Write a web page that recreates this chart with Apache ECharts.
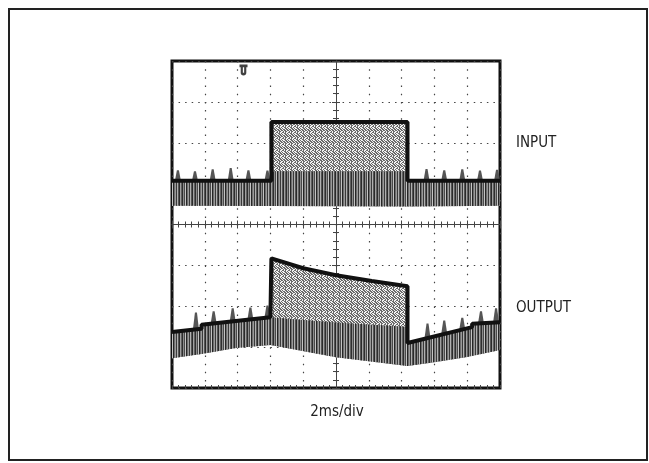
<!DOCTYPE html>
<html>
<head>
<meta charset="utf-8">
<script src="https://cdn.jsdelivr.net/npm/echarts@6/dist/echarts.min.js"></script>
<style>
  html, body { margin: 0; padding: 0; background: #fff; }
  #chart { width: 649px; height: 463px; }
</style>
</head>
<body>
<div id="chart"></div>
<script>
// scope screen in divisions: x -5..5 (2ms/div), y -4..4
// upper envelope (thick trace), top of the dense part, bottom of the band
const inputEdge = [[-5, 1.07], [-1.97, 1.07], [-1.97, 2.51], [2.18, 2.51], [2.18, 1.07], [5, 1.07]];
const inputDense = [[-5, 1.07], [-1.97, 1.07], [-1.97, 1.3], [2.18, 1.3], [2.18, 1.07], [5, 1.07]];
const inputFloor = [[-5, 0.46], [-1.97, 0.45], [2.18, 0.44], [5, 0.46]];
// spikes above the low level: [x, base, tip]
const inputSpikes = [[-4.82, 1.07, 1.33], [-4.30, 1.07, 1.30], [-3.76, 1.07, 1.35], [-3.21, 1.07, 1.38],
  [-2.67, 1.07, 1.33], [-2.09, 1.07, 1.32], [2.76, 1.07, 1.36], [3.30, 1.07, 1.33],
  [3.85, 1.07, 1.35], [4.39, 1.07, 1.32], [4.91, 1.07, 1.34]];

const outputEdge = [[-5, -2.63], [-4.1, -2.55], [-4.1, -2.45], [-2.0, -2.27], [-1.97, -0.83],
  [-1.0, -1.07], [0, -1.24], [1.09, -1.38], [2.18, -1.51], [2.18, -2.9], [4.15, -2.51],
  [4.15, -2.43], [5, -2.39]];
const outputDense = [[-5, -2.63], [-4.1, -2.55], [-4.1, -2.45], [-2.0, -2.27], [0, -2.4],
  [2.18, -2.5], [2.18, -2.9], [4.15, -2.51], [4.15, -2.43], [5, -2.39]];
const outputFloor = [[-5, -3.27], [-4.1, -3.17], [-3.05, -3.02], [-2.0, -2.95], [0, -3.25],
  [2.18, -3.46], [3.0, -3.37], [4.0, -3.24], [5, -3.07]];
const outputSpikes = [[-4.27, -2.56, -2.15], [-3.73, -2.43, -2.12], [-3.15, -2.38, -2.05],
  [-2.61, -2.33, -2.03], [-2.09, -2.28, -1.98], [2.79, -2.78, -2.42], [3.30, -2.68, -2.35],
  [3.85, -2.57, -2.28], [4.42, -2.42, -2.12], [4.88, -2.4, -2.05]];

const triggerMark = [[-2.82, 3.78]];

function makePattern(w, h, paint) {
  const c = document.createElement('canvas');
  c.width = w;
  c.height = h;
  paint(c.getContext('2d'));
  return { image: c, repeat: 'repeat' };
}

// vertical streaks for the dense part
const densePattern = makePattern(13, 4, (ctx) => {
  const cols = ['#2e2e2e', '#8c8c8c', '#4a4a4a', '#c4c4c4', '#262626', '#6e6e6e', '#9a9a9a',
    '#3a3a3a', '#b0b0b0', '#555', '#2a2a2a', '#a0a0a0', '#606060'];
  cols.forEach((c, i) => {
    ctx.fillStyle = c;
    ctx.fillRect(i, 0, 1, 4);
  });
});
// speckle for the high part
const lightPattern = makePattern(6, 6, (ctx) => {
  ctx.fillStyle = '#f2f2f2';
  ctx.fillRect(0, 0, 6, 6);
  ctx.fillStyle = '#6a6a6a';
  [[0, 0, 2], [3, 0, 1], [2, 1, 2], [5, 1, 1], [0, 2, 1], [3, 2, 2], [1, 3, 2], [4, 3, 2],
    [0, 4, 1], [2, 4, 2], [5, 4, 1], [1, 5, 1], [3, 5, 2]]
    .forEach(([x, y, w]) => ctx.fillRect(x, y, w, 1));
});

function band(top, floor, fill) {
  return {
    type: 'custom',
    silent: true,
    data: [[0, 0]],
    z: 2,
    renderItem: (params, api) => {
      const pts = top.concat(floor.slice().reverse()).map((p) => api.coord(p));
      return { type: 'polygon', shape: { points: pts }, style: { fill: fill } };
    },
  };
}

function spikes(list) {
  return {
    type: 'custom',
    silent: true,
    data: list,
    z: 3,
    renderItem: (params, api) => {
      const base = api.coord([api.value(0), api.value(1)]);
      const tip = api.coord([api.value(0), api.value(2)]);
      return {
        type: 'polygon',
        shape: { points: [[base[0] - 3, base[1]], [tip[0] - 1, tip[1]], [tip[0] + 1, tip[1]], [base[0] + 3, base[1]]] },
        style: { fill: '#555' },
      };
    },
  };
}

function edge(data) {
  return {
    type: 'line',
    data: data,
    symbol: 'none',
    silent: true,
    z: 4,
    lineStyle: { color: '#111', width: 4 },
  };
}

function centerAxis(dim, inside) {
  return {
    min: dim === 'x' ? -5 : -4,
    max: dim === 'x' ? 5 : 4,
    interval: 1,
    type: 'value',
    position: dim === 'x' ? 'bottom' : 'left',
    axisLine: { show: true, onZero: true, onZeroAxisIndex: 0, lineStyle: { color: '#444', width: 1 } },
    axisTick: { show: true, inside: inside, length: 4, lineStyle: { color: '#444' } },
    minorTick: { show: true, splitNumber: 5, length: 3, lineStyle: { color: '#444' } },
    axisLabel: { show: false },
    splitLine: { show: false },
  };
}

const font = '"Liberation Sans Narrow", "DejaVu Sans Condensed", sans-serif';

const chart = echarts.init(document.getElementById('chart'));
chart.setOption({
  animation: false,
  backgroundColor: '#fff',
  grid: {
    left: 172, top: 61, width: 328, height: 327,
    show: true, borderColor: '#111', borderWidth: 3, backgroundColor: 'transparent',
  },
  xAxis: [
    {
      type: 'value', min: -5, max: 5, interval: 1, position: 'bottom',
      axisLine: { show: false, onZero: false },
      axisTick: { show: true, inside: true, length: 3, lineStyle: { color: '#444' } },
      minorTick: { show: true, splitNumber: 5, length: 3, lineStyle: { color: '#444' } },
      axisLabel: { show: false },
      splitLine: { show: true, lineStyle: { color: '#444', width: 1.2, type: [1.5, 6.68] } },
    },
    centerAxis('x', true),
    centerAxis('x', false),
  ],
  yAxis: [
    {
      type: 'value', min: -4, max: 4, interval: 1, position: 'left',
      axisLine: { show: false, onZero: false },
      axisTick: { show: false },
      axisLabel: { show: false },
      splitLine: { show: true, lineStyle: { color: '#444', width: 1.2, type: [1.5, 5.06] } },
    },
    centerAxis('y', true),
    centerAxis('y', false),
  ],
  graphic: [
    { type: 'rect', silent: true, shape: { x: 9, y: 9, width: 638, height: 451 },
      style: { fill: null, stroke: '#222', lineWidth: 2 } },
    { type: 'text', x: 516, y: 143,
      style: { text: 'INPUT', fontSize: 15, fontFamily: font, fill: '#222', verticalAlign: 'middle' } },
    { type: 'text', x: 516, y: 308,
      style: { text: 'OUTPUT', fontSize: 15, fontFamily: font, fill: '#222', verticalAlign: 'middle' } },
    { type: 'text', x: 337, y: 412,
      style: { text: '2ms/div', fontSize: 15, fontFamily: font, fill: '#222', align: 'center', verticalAlign: 'middle' } },
  ],
  series: [
    band(inputEdge, inputFloor, lightPattern),
    band(inputDense, inputFloor, densePattern),
    spikes(inputSpikes),
    edge(inputEdge),
    band(outputEdge, outputFloor, lightPattern),
    band(outputDense, outputFloor, densePattern),
    spikes(outputSpikes),
    edge(outputEdge),
    {
      type: 'scatter',
      data: triggerMark,
      silent: true,
      z: 5,
      symbol: 'path://M0,0H10V3H8.5V9C8.5,11,7,12,5,12C3,12,1.5,11,1.5,9V3H0Z M4.2,3V9H5.8V3Z',
      symbolSize: [8, 11],
      itemStyle: { color: '#111' },
    },
  ],
});
</script>
</body>
</html>
